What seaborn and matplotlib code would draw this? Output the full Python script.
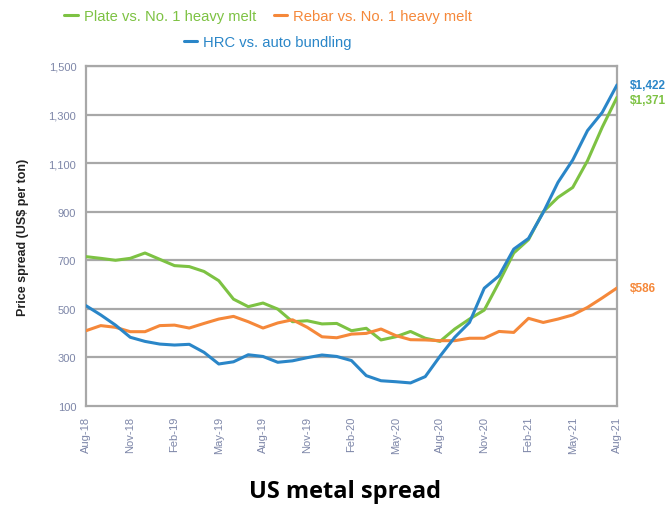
import matplotlib
matplotlib.use("Agg")
import matplotlib.pyplot as plt
from matplotlib.lines import Line2D
from matplotlib.ticker import FixedLocator, MultipleLocator, FuncFormatter
import numpy as np
import pandas as pd
import seaborn as sns

# Monthly spreads, Aug-2018 .. Aug-2021 (US$ per ton)
months = pd.date_range("2018-08-01", periods=37, freq="MS")
plate = [715, 708, 700, 708, 730, 704, 678, 674, 654, 616, 540, 509, 524, 499,
         447, 451, 438, 440, 410, 420, 372, 385, 407, 379, 366, 417, 458, 495,
         609, 730, 785, 900, 959, 1000, 1110, 1248, 1371]
rebar = [410, 431, 424, 406, 406, 431, 433, 421, 440, 458, 469, 447, 421, 442,
         455, 424, 385, 381, 396, 399, 417, 390, 373, 372, 369, 369, 379, 379,
         407, 403, 461, 444, 458, 475, 506, 545, 586]
hrc = [513, 475, 433, 383, 366, 355, 351, 354, 321, 273, 282, 311, 304, 280,
       286, 299, 310, 304, 287, 225, 204, 200, 195, 221, 305, 383, 444, 585,
       636, 746, 790, 897, 1021, 1113, 1234, 1309, 1422]

series_names = ["Plate vs. No. 1 heavy melt", "Rebar vs. No. 1 heavy melt",
                "HRC vs. auto bundling"]
series_colors = ["#7dc243", "#f5883a", "#2a86c8"]
end_labels = ["$1,371", "$586", "$1,422"]

month_labels = [m.strftime("%b-%y") for m in months]
month_idx = list(range(len(months)))

df = pd.concat([
    pd.DataFrame({"month": month_idx, "spread": vals, "series": name})
    for name, vals in zip(series_names, [plate, rebar, hrc])
])

sns.set_style("white")
plt.rcParams["font.family"] = ["Liberation Sans", "DejaVu Sans"]

fig = plt.figure(figsize=(6.69, 5.06), dpi=100)
ax = fig.add_axes([86 / 669, 1 - 407 / 506, (617 - 86) / 669, (407 - 67) / 506])

grid_col = "#a8a8a8"
tick_col = "#7d86a8"

# horizontal grid first so lines sit above it
for yv in range(300, 1501, 200):
    ax.axhline(yv, color=grid_col, lw=1.6, zorder=1)

sns.lineplot(data=df, x="month", y="spread", hue="series",
             hue_order=series_names, palette=series_colors,
             linewidth=2.2, legend=False, ax=ax, zorder=3)

ax.set_xlim(0, 36)
ax.set_ylim(100, 1500)
ax.yaxis.set_major_locator(FixedLocator(range(100, 1501, 200)))
ax.yaxis.set_minor_locator(MultipleLocator(100))
ax.yaxis.set_major_formatter(FuncFormatter(lambda v, p: f"{int(v):,}"))
ax.xaxis.set_major_locator(FixedLocator(month_idx[::3]))
ax.xaxis.set_minor_locator(FixedLocator(month_idx))
ax.set_xticklabels(month_labels[::3], rotation=90)

ax.tick_params(axis="y", which="both", direction="out", length=4, width=1,
               color=grid_col, labelsize=8, labelcolor=tick_col, pad=3)
ax.tick_params(axis="x", which="both", direction="out", length=4, width=1,
               color=grid_col, labelsize=8, labelcolor=tick_col, pad=3)

for side in ["left", "right", "bottom", "top"]:
    ax.spines[side].set_color(grid_col)
    ax.spines[side].set_linewidth(1.6)
    ax.spines[side].set_visible(True)

ax.set_xlabel("")
ax.set_ylabel("")
fig.text(23 / 669, 1 - 237 / 506, "Price spread (US$ per ton)", rotation=90,
         ha="center", va="center", fontsize=9, fontweight="bold",
         color="#222222")

# values at the end of each line
offsets = {"$1,422": 0, "$1,371": -2, "$586": 0}
for name, vals, col, lab in zip(series_names, [plate, rebar, hrc],
                                series_colors, end_labels):
    ax.annotate(lab, xy=(month_idx[-1], vals[-1]), xytext=(9, offsets[lab]),
                textcoords="offset points", color=col, fontsize=8.5,
                fontweight="bold", va="center", ha="left",
                annotation_clip=False)

# legend in two centred rows
def handle(c):
    return Line2D([], [], color=c, lw=2.2)

leg_kw = dict(frameon=False, fontsize=10.6, handlelength=0.9,
              handletextpad=0.4, borderpad=0, loc="center")
leg1 = fig.legend([handle(series_colors[0]), handle(series_colors[1])],
                  series_names[:2], ncol=2, columnspacing=1.2,
                  bbox_to_anchor=(268 / 669, 1 - 17 / 506), **leg_kw)
for t, c in zip(leg1.get_texts(), series_colors[:2]):
    t.set_color(c)
leg2 = fig.legend([handle(series_colors[2])], series_names[2:],
                  bbox_to_anchor=(268 / 669, 1 - 43 / 506), **leg_kw)
for t in leg2.get_texts():
    t.set_color(series_colors[2])

fig.text(345 / 669, 1 - 492 / 506, "US metal spread", ha="center",
         va="center", fontsize=17, fontweight="bold",
         family=["Open Sans", "DejaVu Sans"], color="#000000")

fig.savefig("out.png", dpi=100, facecolor="white")
